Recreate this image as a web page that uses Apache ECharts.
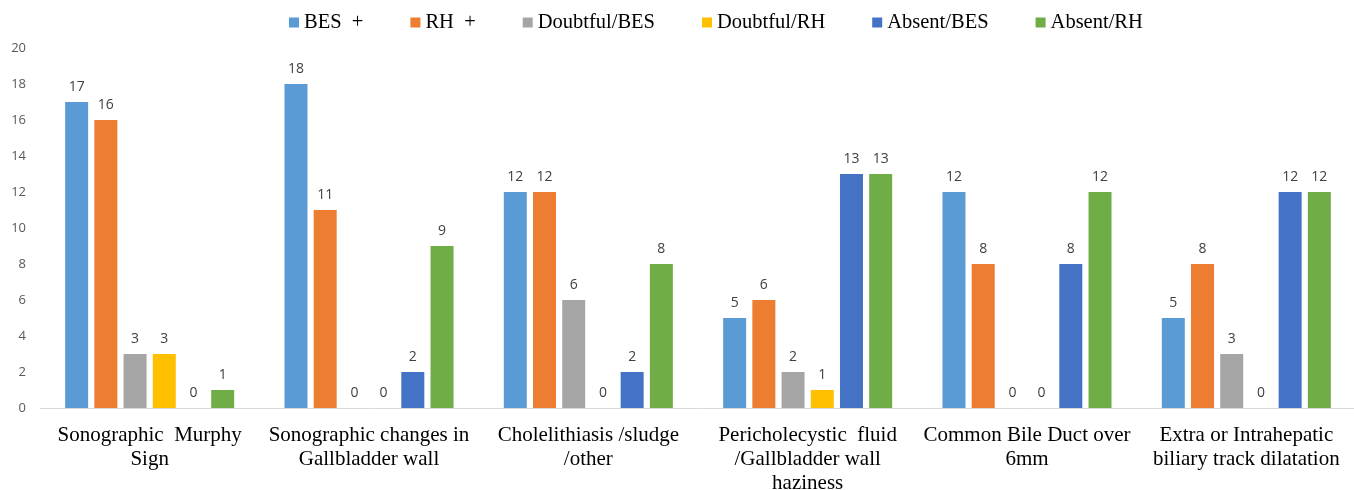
<!DOCTYPE html>
<html>
<head>
<meta charset="utf-8">
<script src="https://cdn.jsdelivr.net/npm/echarts@6/dist/echarts.min.js"></script>
<style>html,body{margin:0;padding:0;background:#fff;}#c{width:1354px;height:490px;}</style>
</head>
<body>
<div id="c"></div>
<script>
const categories = [
  "Sonographic  Murphy\nSign",
  "Sonographic changes in\nGallbladder wall",
  "Cholelithiasis /sludge\n/other",
  "Pericholecystic  fluid\n/Gallbladder wall\nhaziness",
  "Common Bile Duct over\n6mm",
  "Extra or Intrahepatic\nbiliary track dilatation"
];
const seriesNames = ["BES  +", "RH  +", "Doubtful/BES", "Doubtful/RH", "Absent/BES", "Absent/RH"];
const besPlus = [17, 18, 12, 5, 12, 5];
const rhPlus = [16, 11, 12, 6, 8, 8];
const doubtfulBes = [3, 0, 6, 2, 0, 3];
const doubtfulRh = [3, 0, 0, 1, 0, 0];
const absentBes = [0, 2, 2, 13, 8, 12];
const absentRh = [1, 9, 8, 13, 12, 12];
const yTicks = [0, 2, 4, 6, 8, 10, 12, 14, 16, 18, 20];

const colors = ["#5B9BD5", "#ED7D31", "#A5A5A5", "#FFC000", "#4472C4", "#70AD47"];
const allData = [besPlus, rhPlus, doubtfulBes, doubtfulRh, absentBes, absentRh];

const chart = echarts.init(document.getElementById('c'));
chart.setOption({
  animation: false,
  color: colors,
  legend: {
    top: 7,
    left: 284,
    itemWidth: 10,
    itemHeight: 10,
    itemGap: 47,
    icon: 'rect',
    textStyle: { fontFamily: 'Liberation Serif', fontSize: 20.5, color: '#000' },
    data: seriesNames
  },
  grid: { left: 40, right: -2, top: 48, bottom: 82, outerBoundsMode: 'none', containLabel: false },
  xAxis: {
    type: 'category',
    data: categories,
    axisLine: { lineStyle: { color: '#D9D9D9', width: 1 } },
    axisTick: { show: false },
    axisLabel: {
      interval: 0,
      margin: 15,
      fontFamily: 'Liberation Serif',
      fontSize: 21,
      lineHeight: 24,
      color: '#000'
    }
  },
  yAxis: {
    type: 'value',
    min: yTicks[0],
    max: yTicks[yTicks.length - 1],
    interval: 2,
    splitLine: { show: false },
    axisLine: { show: false },
    axisTick: { show: false },
    axisLabel: { fontFamily: 'Open Sans', fontSize: 13, color: '#595959', margin: 14 }
  },
  series: seriesNames.map((n, i) => ({
    name: n,
    type: 'bar',
    data: allData[i],
    barWidth: 23,
    barGap: '27%',
    label: { show: true, position: 'top', distance: 8, fontFamily: 'Open Sans', fontSize: 14, color: '#404040' }
  }))
});
</script>
</body>
</html>
